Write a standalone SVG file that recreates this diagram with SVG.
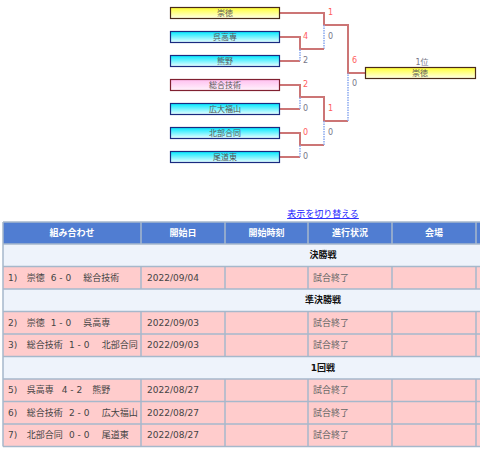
<svg xmlns="http://www.w3.org/2000/svg" width="480" height="453" viewBox="0 0 480 453">
<defs>
<linearGradient id="gY" x1="0" y1="0" x2="0" y2="1"><stop offset="0" stop-color="#ffff33"/><stop offset="1" stop-color="#ffffe8"/></linearGradient>
<linearGradient id="gC" x1="0" y1="0" x2="0" y2="1"><stop offset="0" stop-color="#00e8ff"/><stop offset="1" stop-color="#eefeff"/></linearGradient>
<linearGradient id="gP" x1="0" y1="0" x2="0" y2="1"><stop offset="0" stop-color="#ffbff0"/><stop offset="1" stop-color="#fff4fc"/></linearGradient>
<style>
text{font-family:"DejaVu Sans","Noto Sans CJK JP",sans-serif}
.bx{font-size:8px;fill:#555;text-anchor:middle}
.win{stroke:#cc7575;stroke-width:2;fill:none}
.los{stroke:#88a8f0;stroke-width:1.5;stroke-dasharray:1.5 1;fill:none}
.sw{font-size:8px;fill:#ff5c5c}
.sl{font-size:8px;fill:#778}
.y{fill:url(#gY);stroke:#4a2a18;stroke-width:1.2}
.c{fill:url(#gC);stroke:#1a2a80;stroke-width:1.2}
.p{fill:url(#gP);stroke:#802030;stroke-width:1.2}
.th{font-size:9px;font-weight:bold;fill:#fff;text-anchor:middle}
.sec{font-size:9px;font-weight:bold;fill:#111;text-anchor:middle}
.td{font-size:9px;fill:#444}
.st{font-size:9px;fill:#666}
.grid{stroke:#a6b8cb;stroke-width:1.5;fill:none}
</style>
</defs>
<rect width="480" height="453" fill="#fff"/>

<g id="connectors">
<path class="win" d="M280,13 H324 V25 H348 V73 H365"/>
<path class="los" d="M324,25 V49"/>
<path class="win" d="M280,37 H300 V49 H324"/>
<path class="win" d="M280,61 H300"/>
<path class="los" d="M300,61 V49"/>
<path class="win" d="M280,85 H300 V97 H324 V121 H348"/>
<path class="win" d="M280,109 H300"/>
<path class="los" d="M300,109 V97"/>
<path class="win" d="M280,133 H300 V145 H324"/>
<path class="los" d="M324,145 V121"/>
<path class="win" d="M280,157 H300"/>
<path class="los" d="M300,157 V145"/>
<path class="los" d="M348,121 V73"/>
</g>

<g id="scores">
<text class="sw" x="303" y="39">4</text>
<text class="sl" x="303" y="63">2</text>
<text class="sw" x="303" y="87">2</text>
<text class="sl" x="303" y="111">0</text>
<text class="sw" x="303" y="135">0</text>
<text class="sl" x="303" y="159">0</text>
<text class="sw" x="328" y="15">1</text>
<text class="sl" x="328" y="39">0</text>
<text class="sw" x="328" y="111">1</text>
<text class="sl" x="328" y="135">0</text>
<text class="sw" x="352" y="63">6</text>
<text class="sl" x="352" y="86">0</text>
</g>

<g id="team-sotoku"><rect class="y" x="170.5" y="7.5" width="109" height="11"/><text class="bx" x="225" y="16">崇徳</text></g>
<g id="team-kurekosen"><rect class="c" x="170.5" y="31.5" width="109" height="11"/><text class="bx" x="225" y="40">呉高専</text></g>
<g id="team-kumano"><rect class="c" x="170.5" y="55.5" width="109" height="11"/><text class="bx" x="225" y="64">熊野</text></g>
<g id="team-sogogijutsu"><rect class="p" x="170.5" y="79.5" width="109" height="11"/><text class="bx" x="225" y="88">総合技術</text></g>
<g id="team-kodaifukuyama"><rect class="c" x="170.5" y="103.5" width="109" height="11"/><text class="bx" x="225" y="112">広大福山</text></g>
<g id="team-hokubu"><rect class="c" x="170.5" y="127.5" width="109" height="11"/><text class="bx" x="225" y="136">北部合同</text></g>
<g id="team-onomichihigashi"><rect class="c" x="170.5" y="151.5" width="109" height="11"/><text class="bx" x="225" y="160">尾道東</text></g>
<g id="winner"><text class="sl" x="422" y="65" text-anchor="middle" fill="#666">1位</text><rect class="y" x="365.5" y="67.5" width="110" height="11"/><text class="bx" x="420" y="76">崇徳</text></g>

<g id="toggle-link">
<text x="323" y="217" font-size="9" fill="#1a1aff" text-anchor="middle" text-decoration="underline">表示を切り替える</text>
</g>

<g id="table">
<rect x="3" y="222" width="477" height="22" fill="#507dd2"/>
<rect x="3" y="244" width="477" height="22.5" fill="#eef3fb"/>
<rect x="3" y="266.5" width="477" height="22.5" fill="#ffcccc"/>
<rect x="3" y="289" width="477" height="22.5" fill="#eef3fb"/>
<rect x="3" y="311.5" width="477" height="45" fill="#ffcccc"/>
<rect x="3" y="356.5" width="477" height="22.5" fill="#eef3fb"/>
<rect x="3" y="379" width="477" height="67.5" fill="#ffcccc"/>
<path class="grid" d="M3,222 H480 M3,244 H480 M3,266.5 H480 M3,289 H480 M3,311.5 H480 M3,334 H480 M3,356.5 H480 M3,379 H480 M3,401.5 H480 M3,424 H480 M3,446.5 H480 M3,222 V446.5"/>
<path class="grid" d="M141,222 V244 M225,222 V244 M308,222 V244 M392,222 V244 M476,222 V244"/>
<path class="grid" d="M141,266.5 V289 M225,266.5 V289 M308,266.5 V289 M392,266.5 V289 M476,266.5 V289"/>
<path class="grid" d="M141,311.5 V356.5 M225,311.5 V356.5 M308,311.5 V356.5 M392,311.5 V356.5 M476,311.5 V356.5"/>
<path class="grid" d="M141,379 V446.5 M225,379 V446.5 M308,379 V446.5 M392,379 V446.5 M476,379 V446.5"/>

<text class="th" x="72" y="236">組み合わせ</text>
<text class="th" x="183" y="236">開始日</text>
<text class="th" x="266.5" y="236">開始時刻</text>
<text class="th" x="350" y="236">進行状況</text>
<text class="th" x="434" y="236">会場</text>

<text class="sec" x="323" y="258">決勝戦</text>
<text class="sec" x="323" y="303">準決勝戦</text>
<text class="sec" x="323" y="370.5">1回戦</text>

<text class="td" y="281"><tspan x="8">1)</tspan><tspan x="26.7">崇徳</tspan><tspan x="50.7">6 - 0</tspan><tspan x="83.3">総合技術</tspan></text>
<text class="td" x="147" y="281">2022/09/04</text>
<text class="st" x="313" y="281">試合終了</text>

<text class="td" y="326"><tspan x="8">2)</tspan><tspan x="26.7">崇徳</tspan><tspan x="50.7">1 - 0</tspan><tspan x="83.3">呉高専</tspan></text>
<text class="td" x="147" y="326">2022/09/03</text>
<text class="st" x="313" y="326">試合終了</text>

<text class="td" y="348"><tspan x="8">3)</tspan><tspan x="26.7">総合技術</tspan><tspan x="69">1 - 0</tspan><tspan x="101.7">北部合同</tspan></text>
<text class="td" x="147" y="348">2022/09/03</text>
<text class="st" x="313" y="348">試合終了</text>

<text class="td" y="393"><tspan x="8">5)</tspan><tspan x="26.7">呉高専</tspan><tspan x="61.7">4 - 2</tspan><tspan x="92.3">熊野</tspan></text>
<text class="td" x="147" y="393">2022/08/27</text>
<text class="st" x="313" y="393">試合終了</text>

<text class="td" y="416"><tspan x="8">6)</tspan><tspan x="26.7">総合技術</tspan><tspan x="69">2 - 0</tspan><tspan x="101.7">広大福山</tspan></text>
<text class="td" x="147" y="416">2022/08/27</text>
<text class="st" x="313" y="416">試合終了</text>

<text class="td" y="438"><tspan x="8">7)</tspan><tspan x="26.7">北部合同</tspan><tspan x="69">0 - 0</tspan><tspan x="101.7">尾道東</tspan></text>
<text class="td" x="147" y="438">2022/08/27</text>
<text class="st" x="313" y="438">試合終了</text>
</g>
</svg>
